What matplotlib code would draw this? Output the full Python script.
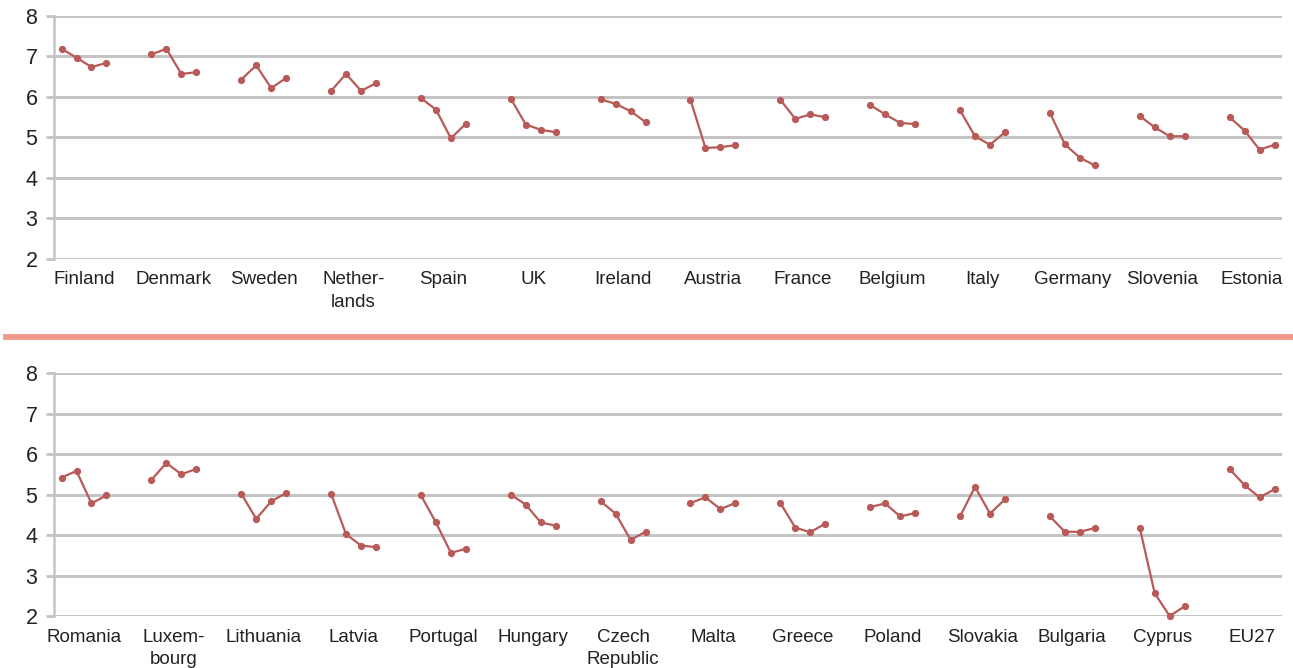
import matplotlib
matplotlib.use("Agg")
import matplotlib.pyplot as plt
from matplotlib.lines import Line2D

plt.rcParams['font.family'] = ['Liberation Sans', 'DejaVu Sans']

# Country groups, four observations each
countries_top = ["Finland", "Denmark", "Sweden", "Nether-\nlands", "Spain", "UK",
                 "Ireland", "Austria", "France", "Belgium", "Italy", "Germany",
                 "Slovenia", "Estonia"]
values_top = [
    [7.19, 6.97, 6.74, 6.84],
    [7.05, 7.19, 6.57, 6.61],
    [6.43, 6.78, 6.22, 6.47],
    [6.15, 6.57, 6.15, 6.34],
    [5.97, 5.69, 4.98, 5.34],
    [5.96, 5.32, 5.19, 5.13],
    [5.94, 5.83, 5.65, 5.38],
    [5.93, 4.74, 4.76, 4.81],
    [5.93, 5.46, 5.57, 5.50],
    [5.80, 5.57, 5.36, 5.33],
    [5.67, 5.03, 4.82, 5.13],
    [5.61, 4.83, 4.50, 4.31],
    [5.53, 5.25, 5.03, 5.03],
    [5.50, 5.17, 4.70, 4.82],
]

countries_bottom = ["Romania", "Luxem-\nbourg", "Lithuania", "Latvia", "Portugal",
                    "Hungary", "Czech\nRepublic", "Malta", "Greece", "Poland",
                    "Slovakia", "Bulgaria", "Cyprus", "EU27"]
values_bottom = [
    [5.42, 5.58, 4.78, 4.98],
    [5.36, 5.78, 5.50, 5.63],
    [5.02, 4.40, 4.83, 5.04],
    [5.02, 4.02, 3.74, 3.70],
    [4.98, 4.31, 3.56, 3.66],
    [5.00, 4.75, 4.31, 4.23],
    [4.83, 4.53, 3.88, 4.08],
    [4.79, 4.93, 4.64, 4.79],
    [4.79, 4.18, 4.07, 4.28],
    [4.69, 4.78, 4.46, 4.54],
    [4.46, 5.19, 4.53, 4.88],
    [4.46, 4.08, 4.08, 4.17],
    [4.18, 2.56, 2.00, 2.24],
    [5.63, 5.23, 4.93, 5.13],
]

y_ticks = [2, 3, 4, 5, 6, 7, 8]

LINE_COLOR = "#B85A57"
GRID_COLOR = "#C4C4C4"
TEXT_COLOR = "#222222"
SLOTS = 6  # four points plus two empty slots per country


def draw_panel(ax, names, series):
    for i, vals in enumerate(series):
        xs = [i * SLOTS + j for j in range(len(vals))]
        ax.plot(xs, vals, color=LINE_COLOR, lw=1.6, marker="o", ms=4.2,
                mfc=LINE_COLOR, mec=LINE_COLOR, clip_on=False, zorder=3)
    n = len(names)
    ax.set_xlim(-0.5, (n - 1) * SLOTS + 3.5)
    ax.set_ylim(2, 8)
    ax.set_yticks(y_ticks)
    ax.set_yticklabels([str(t) for t in y_ticks], fontsize=15.5, color=TEXT_COLOR)
    ax.set_xticks([i * SLOTS + 1.5 for i in range(n)])
    ax.set_xticklabels(names, fontsize=13.5, color=TEXT_COLOR, linespacing=1.45,
                       va="top")
    ax.tick_params(axis="x", length=0, pad=9)
    ax.tick_params(axis="y", length=6, width=2, color=GRID_COLOR, pad=6)
    ax.yaxis.grid(True, color=GRID_COLOR, lw=2.2, zorder=0)
    ax.set_axisbelow(True)
    for s in ("top", "right", "bottom"):
        ax.spines[s].set_visible(False)
    ax.spines["left"].set_color(GRID_COLOR)
    ax.spines["left"].set_linewidth(1.8)


fig = plt.figure(figsize=(12.93, 6.68), dpi=100)
ax_top = fig.add_axes([0.0418, 0.6123, 0.9497, 0.3638])
ax_bot = fig.add_axes([0.0418, 0.0778, 0.9497, 0.3638])

draw_panel(ax_top, countries_top, values_top)
draw_panel(ax_bot, countries_bottom, values_bottom)

# Divider between the two panels
fig.add_artist(Line2D([0.005, 1.0], [1 - 337 / 668, 1 - 337 / 668],
                      transform=fig.transFigure, color="#F0998A", lw=4.2))

fig.savefig("out.png", dpi=100, facecolor="white")
